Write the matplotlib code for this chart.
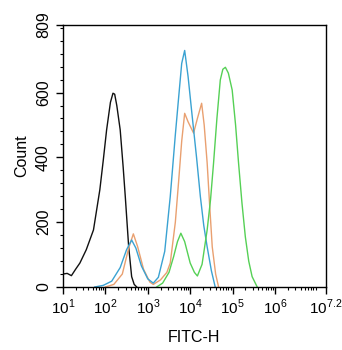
import matplotlib
matplotlib.use("Agg")
import matplotlib.pyplot as plt
from matplotlib.ticker import MultipleLocator, LogLocator, NullFormatter

plt.rcParams['font.family'] = ['Liberation Sans', 'DejaVu Sans']
plt.rcParams['mathtext.fontset'] = 'custom'
plt.rcParams['mathtext.rm'] = 'Liberation Sans'

# log10(FITC-H) and counts
black_x = [1.0, 1.1, 1.2, 1.3, 1.4, 1.55, 1.72, 1.87, 1.95, 2.03, 2.12, 2.18, 2.22, 2.27, 2.35, 2.42, 2.47, 2.55, 2.62, 2.68, 2.74]
black_y = [40, 42, 35, 55, 74, 115, 176, 300, 390, 485, 570, 598, 595, 560, 485, 370, 279, 124, 32, 8, 0]

blue_x = [1.75, 1.95, 2.15, 2.35, 2.5, 2.62, 2.72, 2.85, 3.0, 3.13, 3.25, 3.4, 3.53, 3.65, 3.73, 3.8, 3.87, 3.95, 4.04, 4.15, 4.24, 4.32, 4.4, 4.5, 4.59]
blue_y = [0, 5, 18, 60, 115, 145, 120, 65, 25, 12, 30, 110, 279, 470, 588, 690, 730, 650, 536, 400, 279, 190, 124, 50, 0]

orange_x = [2.0, 2.2, 2.4, 2.55, 2.66, 2.76, 2.9, 3.05, 3.13, 3.3, 3.45, 3.53, 3.65, 3.73, 3.8, 3.87, 3.95, 4.08, 4.17, 4.27, 4.33, 4.4, 4.46, 4.52, 4.6, 4.67]
orange_y = [0, 8, 40, 120, 164, 125, 55, 15, 8, 22, 45, 74, 200, 330, 450, 536, 510, 475, 520, 567, 500, 383, 250, 124, 40, 0]

green_x = [3.21, 3.35, 3.5, 3.61, 3.7, 3.78, 3.87, 4.0, 4.1, 4.17, 4.28, 4.4, 4.48, 4.55, 4.63, 4.71, 4.77, 4.83, 4.9, 4.99, 5.07, 5.14, 5.22, 5.3, 5.38, 5.46, 5.58]
green_y = [0, 12, 45, 94, 140, 166, 140, 74, 45, 34, 70, 176, 270, 381, 520, 639, 672, 678, 660, 608, 500, 383, 260, 155, 80, 32, 0]

series = [
    (black_x, black_y, '#111111'),
    (orange_x, orange_y, '#e9a070'),
    (blue_x, blue_y, '#3aa2d2'),
    (green_x, green_y, '#55d055'),
]

fig = plt.figure(figsize=(3.42, 3.5), dpi=100)
ax = fig.add_axes([0.184, 0.18, 0.769, 0.749])

for xs, ys, c in series:
    ax.plot([10 ** v for v in xs], ys, color=c, lw=1.0)

ax.set_xscale('log')
ax.set_xlim(10, 10 ** 7.2)
ax.set_ylim(0, 809)

xt = [1, 2, 3, 4, 5, 6, 7.2]
ax.set_xticks([10 ** v for v in xt])
ax.set_xticklabels(['$10^{%g}$' % v for v in xt], fontsize=11)
ax.xaxis.set_minor_locator(LogLocator(base=10, subs=range(2, 10), numticks=20))
ax.xaxis.set_minor_formatter(NullFormatter())

ax.set_yticks([0, 200, 400, 600, 809])
ax.set_yticklabels(['0', '200', '400', '600', '809'], fontsize=11.5, rotation=90, va='center')
ax.yaxis.set_minor_locator(MultipleLocator(40))

ax.tick_params(which='major', length=5, width=1, direction='out')
ax.tick_params(which='minor', length=2.5, width=0.8, direction='out')
ax.tick_params(axis='x', which='major', pad=3)
for s in ax.spines.values():
    s.set_linewidth(1.0)

ax.set_xlabel('FITC-H', fontsize=11.5, labelpad=9)
ax.set_ylabel('Count', fontsize=11.5, labelpad=5)

fig.savefig('out.png', dpi=100)
